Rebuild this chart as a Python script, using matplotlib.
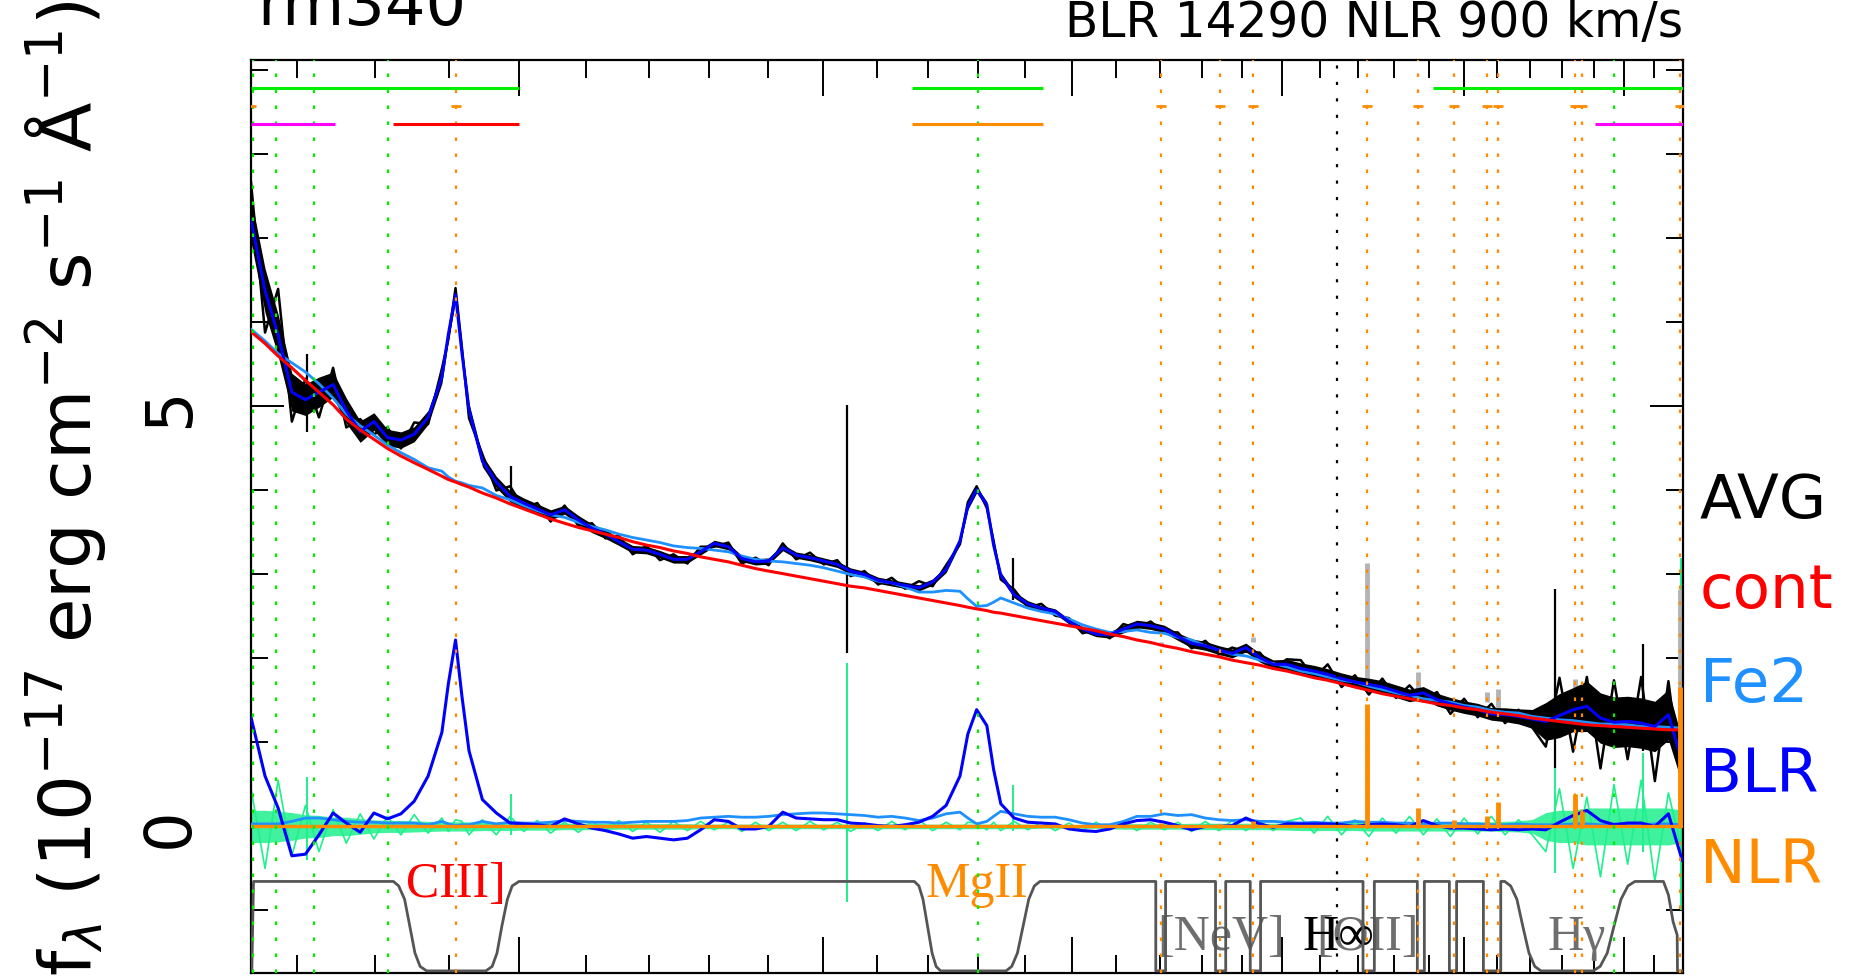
import numpy as np
import matplotlib
matplotlib.use("Agg")
import matplotlib.pyplot as plt
from matplotlib.ticker import FixedLocator, NullFormatter

# wavelength grid (Angstrom) and fitted components
wave = [1643, 1660, 1676, 1693, 1710, 1727, 1745, 1762, 1780, 1798,
        1816, 1834, 1852, 1871, 1890, 1899, 1909, 1918, 1928, 1947, 1967, 1987,
        2007, 2027, 2047, 2068, 2089, 2110, 2131, 2152, 2174, 2196,
        2218, 2240, 2263, 2285, 2308, 2332, 2355, 2379, 2402,
        2427, 2451, 2476, 2501, 2526, 2551, 2577, 2603, 2629, 2655, 2682, 2709, 2736, 2764,
        2780, 2798, 2819, 2833,
        2848, 2876, 2905, 2934, 2964, 2994, 3024, 3054, 3085, 3116, 3147,
        3179, 3211, 3243, 3276, 3309, 3342, 3375, 3409, 3444, 3478, 3513,
        3549, 3584, 3620, 3657, 3693, 3731, 3768, 3806, 3844, 3883, 3922,
        3961, 4001, 4041, 4082, 4123, 4164, 4206,
        4248, 4291, 4334, 4378, 4422, 4466, 4511, 4556, 4602, 4648, 4695]

cont = [5.89, 5.75, 5.60, 5.46, 5.31, 5.17, 5.02, 4.85, 4.72, 4.61,
        4.50, 4.41, 4.33, 4.25, 4.17, 4.13, 4.10, 4.07, 4.04, 3.97, 3.91, 3.84,
        3.78, 3.72, 3.66, 3.61, 3.56, 3.52, 3.48, 3.44, 3.39, 3.35,
        3.32, 3.28, 3.25, 3.21, 3.18, 3.15, 3.11, 3.07, 3.04,
        3.01, 2.98, 2.95, 2.92, 2.89, 2.86, 2.84, 2.81, 2.78, 2.75, 2.72, 2.69, 2.66, 2.63,
        2.61, 2.59, 2.57, 2.55,
        2.54, 2.51, 2.48, 2.45, 2.42, 2.39, 2.36, 2.33, 2.29, 2.26, 2.22,
        2.19, 2.15, 2.12, 2.08, 2.05, 2.02, 1.98, 1.95, 1.92, 1.88, 1.85,
        1.81, 1.77, 1.74, 1.70, 1.66, 1.62, 1.58, 1.55, 1.52, 1.49, 1.46,
        1.44, 1.41, 1.39, 1.36, 1.34, 1.32, 1.29,
        1.27, 1.25, 1.23, 1.21, 1.20, 1.19, 1.18, 1.17, 1.16, 1.15, 1.15]

fe2 = [0.03, 0.03, 0.03, 0.06, 0.10, 0.10, 0.08, 0.06, 0.05, 0.05,
       0.04, 0.04, 0.04, 0.02, 0.06, 0.03, 0.01, 0.02, 0.02, 0.06, 0.03, 0.05,
       0.04, 0.04, 0.05, 0.07, 0.06, 0.05, 0.05, 0.04, 0.05, 0.06,
       0.06, 0.06, 0.07, 0.10, 0.11, 0.12, 0.11, 0.11, 0.12,
       0.14, 0.15, 0.16, 0.16, 0.15, 0.14, 0.13, 0.11, 0.12, 0.10, 0.07, 0.10, 0.15, 0.17,
       0.10, 0.03, 0.06, 0.12,
       0.18, 0.15, 0.12, 0.11, 0.11, 0.08, 0.04, 0.02, 0.02, 0.06, 0.12,
       0.12, 0.15, 0.13, 0.14, 0.10, 0.08, 0.07, 0.08, 0.06, 0.06, 0.05,
       0.04, 0.05, 0.04, 0.04, 0.06, 0.05, 0.05, 0.04, 0.04, 0.03, 0.04,
       0.04, 0.03, 0.03, 0.02, 0.02, 0.03, 0.02,
       0.02, 0.02, 0.03, 0.03, 0.02, 0.03, 0.03, 0.02, 0.03, 0.03, 0.02]

blr = [1.30, 0.60, 0.22, -0.35, -0.33, -0.10, 0.16, 0.04, -0.07, 0.16,
       0.09, 0.15, 0.30, 0.60, 1.12, 1.70, 2.22, 1.55, 0.90, 0.32, 0.16, 0.04,
       0.03, 0.02, 0.00, 0.09, 0.03, -0.02, -0.05, -0.09, -0.14, -0.12,
       -0.14, -0.16, -0.14, -0.04, 0.08, 0.06, -0.03, -0.03, 0.00,
       0.17, 0.10, 0.09, 0.08, 0.08, 0.04, 0.03, 0.01, 0.00, 0.02, 0.05, 0.12, 0.25, 0.60,
       1.10, 1.39, 1.20, 0.68,
       0.27, 0.10, 0.05, 0.04, 0.03, -0.03, -0.05, -0.06, -0.03, 0.03, 0.07,
       0.08, 0.05, 0.01, -0.04, 0.00, 0.00, 0.01, 0.10, 0.03, -0.01, 0.03,
       0.03, 0.03, 0.03, 0.02, 0.00, 0.02, 0.03, 0.02, 0.00, 0.07, 0.01,
       -0.02, -0.02, -0.03, -0.04, -0.03, -0.04, -0.03,
       -0.04, 0.05, 0.13, 0.19, 0.07, 0.02, 0.04, 0.04, 0.00, 0.15, -0.40]

# data minus model at each grid point
resid = [0.45, -0.50, 0.55, -0.35, 0.25, -0.30, 0.20, -0.20, 0.15, -0.15,
         0.12, -0.10, 0.14, -0.08, 0.10, -0.06, 0.08, 0.06, -0.10, 0.08, -0.10, 0.12,
         -0.06, 0.07, -0.08, 0.05, -0.07, 0.06, -0.05, 0.07, -0.06, 0.05,
         -0.07, 0.06, -0.05, 0.06, -0.04, 0.05, -0.06, 0.05, -0.05,
         0.05, -0.05, 0.06, -0.04, 0.05, -0.06, 0.04, -0.05, 0.06, -0.04, 0.08, -0.05, 0.05, -0.04,
         0.05, 0.04, -0.04, 0.05,
         -0.05, 0.06, -0.04, 0.05, -0.05, 0.04, -0.05, 0.05, -0.04, 0.06, -0.05,
         0.05, -0.04, 0.05, -0.06, 0.06, -0.05, 0.07, -0.05, 0.06, -0.05, 0.06,
         0.10, -0.08, 0.12, -0.10, 0.08, -0.12, 0.10, -0.08, 0.12, -0.10, 0.09,
         -0.12, 0.10, -0.09, 0.12, -0.10, 0.08, -0.10,
         -0.30, 0.45, -0.50, 0.35, -0.60, 0.50, -0.45, 0.55, -0.65, 0.40, -0.30]

# half width of the pixel-to-pixel noise band
noise = [0.35, 0.35, 0.33, 0.30, 0.25, 0.24, 0.20, 0.20, 0.17, 0.14,
         0.13, 0.13, 0.12, 0.11, 0.10, 0.10, 0.10, 0.10, 0.10, 0.09, 0.09, 0.09,
         0.08, 0.08, 0.08, 0.07, 0.07, 0.07, 0.07, 0.06, 0.06, 0.06,
         0.06, 0.06, 0.06, 0.05, 0.05, 0.05, 0.05, 0.05, 0.05,
         0.05, 0.05, 0.05, 0.05, 0.05, 0.05, 0.05, 0.05, 0.05, 0.05, 0.05, 0.05, 0.05, 0.05,
         0.05, 0.05, 0.05, 0.05,
         0.05, 0.05, 0.05, 0.04, 0.04, 0.04, 0.04, 0.04, 0.05, 0.06, 0.06,
         0.06, 0.06, 0.06, 0.07, 0.07, 0.07, 0.07, 0.07, 0.07, 0.07, 0.08,
         0.09, 0.09, 0.09, 0.09, 0.09, 0.10, 0.10, 0.10, 0.10, 0.10, 0.10,
         0.10, 0.10, 0.10, 0.10, 0.11, 0.12, 0.15,
         0.30, 0.35, 0.35, 0.40, 0.40, 0.40, 0.40, 0.40, 0.40, 0.40, 0.35]

# single bad pixels
black_spike_wave = [1712, 1988, 2545, 2873, 4276, 4562]
black_spike_lo = [4.70, 3.90, 2.07, 2.70, 0.69, 0.90]
black_spike_hi = [5.62, 4.29, 5.02, 3.20, 2.83, 2.17]
green_spike_wave = [1712, 1988, 2545, 2873, 4276, 4562, 4690]
green_spike_lo = [-0.40, -0.10, -0.90, -0.05, -0.55, -0.30, -1.00]
green_spike_hi = [0.59, 0.39, 1.95, 0.49, 1.52, 0.88, 3.20]

# narrow lines
nlr_wave = [3203, 3346, 3426, 3727, 3869, 3970, 4069, 4103, 4340, 4363, 4686]
nlr_peak = [0.04, 0.03, 0.07, 1.46, 0.22, 0.08, 0.12, 0.29, 0.39, 0.18, 1.66]
gray_top = [2.20, 2.05, 2.26, 3.14, 1.84, 1.50, 1.60, 1.64, 1.76, 1.52, 2.83]

green_lines = [1645, 1673, 1721, 1817, 2800, 4467]
orange_lines = [1909, 3203, 3346, 3426, 3727, 3869, 3970, 4069, 4103, 4340, 4363, 4686]
orange_marks = [1643] + orange_lines
black_lines = [3646]

# fitting windows at the top
green_win_lo, green_win_hi = [1643, 2669, 3911], [2000, 2938, 4700]
red_win_lo, red_win_hi = [1823], [2000]
orange_win_lo, orange_win_hi = [2669], [2938]
magenta_win_lo, magenta_win_hi = [1643, 4405], [1747, 4700]

# weight mask (1 = used in fit)
mask_wave = [1644, 1646, 1824, 1831, 1839, 1846, 1853, 1860, 1869,
             1952, 1961, 1968, 1975, 1983, 1990, 2000,
             2673, 2682, 2690, 2699, 2708, 2716, 2725,
             2859, 2871, 2883, 2895, 2907, 2919, 2931,
             3191, 3191, 3214, 3214, 3334, 3334, 3359, 3359, 3420, 3420, 3446, 3446,
             3715, 3715, 3746, 3746, 3866, 3866, 3886, 3886, 3958, 3958, 3979, 3979,
             4058, 4058, 4110, 4110,
             4122, 4140, 4159, 4177, 4196, 4214, 4233,
             4398, 4421, 4444, 4466, 4489, 4512, 4535,
             4631, 4648, 4664, 4678, 4679, 4698]
mask_level = [0, 1, 1, 0.95, 0.8, 0.5, 0.2, 0.05, 0,
              0, 0.05, 0.2, 0.5, 0.8, 0.95, 1,
              1, 0.95, 0.8, 0.5, 0.2, 0.05, 0,
              0, 0.05, 0.2, 0.5, 0.8, 0.95, 1,
              1, 0, 0, 1, 1, 0, 0, 1, 1, 0, 0, 1,
              1, 0, 0, 1, 1, 0, 0, 1, 1, 0, 0, 1,
              1, 0, 0, 1,
              1, 0.95, 0.8, 0.5, 0.2, 0.05, 0,
              0, 0.05, 0.2, 0.5, 0.8, 0.95, 1,
              1, 0.85, 0.55, 0.4, 0, 0]

plt.rcParams['font.family'] = ['DejaVu Sans']
plt.rcParams['mathtext.fontset'] = 'dejavusans'

GREEN_RES = '#1ef08c'
LIME = '#00ee00'
ORANGE = '#ff8c00'
LBLUE = '#1e90ff'
GRAYTXT = '#6e6e6e'
serif = ['Liberation Serif', 'DejaVu Serif']

w = np.array(wave, dtype=float)
cont = np.array(cont)
fe2 = np.array(fe2)
blr = np.array(blr)
resid = np.array(resid)
noise = np.array(noise)
total = cont + fe2 + blr
avg = total + resid

fig = plt.figure(figsize=(18.54, 9.79), dpi=100)
ax = fig.add_axes([251 / 1854, 5 / 979, 1432 / 1854, 913 / 979])
ax.set_xscale('log')
ax.set_xlim(1643, 4698)
ax.set_ylim(-1.745, 9.125)

# residuals
g_band = 0.55 * noise
ax.fill_between(w, -g_band, g_band, color=GREEN_RES, lw=0, alpha=0.85, zorder=2)
ax.plot(w, resid, color=GREEN_RES, lw=1.2, zorder=2)
ax.vlines(green_spike_wave, green_spike_lo, green_spike_hi, color=GREEN_RES, lw=1.4, zorder=2)

# narrow lines on top of model
top = np.array(gray_top)
ax.vlines(nlr_wave, top - np.array(nlr_peak), top, color='#b4b4b4', lw=3.5, zorder=2.5)

# data
k_band = 0.75 * noise
ax.fill_between(w, total - k_band, total + k_band, color='black', lw=0, zorder=3)
ax.plot(w, avg, color='black', lw=1.8, zorder=3)
ax.vlines(black_spike_wave, black_spike_lo, black_spike_hi, color='black', lw=1.6, zorder=3)

# model pieces
ax.plot(w, cont + fe2, color=LBLUE, lw=2.0, zorder=4)
ax.plot(w, fe2, color=LBLUE, lw=2.0, zorder=4)
ax.plot(w, total, color='#0000ff', lw=2.2, zorder=5)
ax.plot(w, blr, color='#0000ff', lw=2.2, zorder=5)
ax.plot(w, cont, color='red', lw=2.2, zorder=6)
ax.axhline(0, color=ORANGE, lw=2.4, zorder=6)
ax.vlines(nlr_wave, 0, nlr_peak, color=ORANGE, lw=3.5, zorder=6)

# mask
mask_y = -1.72 + 1.065 * np.array(mask_level)
ax.plot(mask_wave, mask_y, color='#555555', lw=2.0, zorder=4)

# line markers
for x in green_lines:
    ax.axvline(x, color=LIME, lw=1.6, dashes=(1.6, 5.6), zorder=7)
for x in orange_lines:
    ax.axvline(x, color=ORANGE, lw=1.6, dashes=(1.6, 5.6), zorder=7)
for x in black_lines:
    ax.axvline(x, color='black', lw=1.6, dashes=(1.4, 6.0), zorder=7)


def windows(y, lo, hi, col):
    ax.hlines([y] * len(lo), lo, hi, color=col, lw=2.2, zorder=7)


windows(8.795, green_win_lo, green_win_hi, LIME)
windows(8.367, red_win_lo, red_win_hi, 'red')
windows(8.367, orange_win_lo, orange_win_hi, ORANGE)
windows(8.367, magenta_win_lo, magenta_win_hi, '#ff00ff')
ax.plot(orange_marks, [8.58] * len(orange_marks), ls='none', marker='_',
        ms=7.5, mew=2.0, color=ORANGE, zorder=7)

# labels of lines
ax.text(1909, -0.83, 'CIII]', color='red', ha='center', va='baseline',
        fontsize=36, family=serif)
ax.text(2798, -0.83, 'MgII', color=ORANGE, ha='center', va='baseline',
        fontsize=36, family=serif)
ax.text(3347, -1.458, '[NeV]', color=GRAYTXT, ha='center', va='baseline',
        fontsize=36, family=serif)
ax.text(3727, -1.458, '[OII]', color=GRAYTXT, ha='center', va='baseline',
        fontsize=36, family=serif)
ax.text(3648, -1.458, 'H∞', color='black', ha='center', va='baseline',
        fontsize=36, family=serif)
ax.text(4346, -1.458, 'Hγ', color=GRAYTXT, ha='center', va='baseline',
        fontsize=36, family=serif)

# ticks
ax.xaxis.set_major_locator(FixedLocator([2000, 2500, 3000, 3500, 4000, 4500]))
ax.xaxis.set_minor_locator(FixedLocator([v for v in range(1700, 4700, 100) if v % 500]))
ax.xaxis.set_major_formatter(NullFormatter())
ax.xaxis.set_minor_formatter(NullFormatter())
ax.tick_params(axis='x', which='major', direction='in', length=26, width=1.4,
               top=True, bottom=True, labelbottom=False)
ax.tick_params(axis='x', which='minor', direction='in', length=13, width=1.4,
               top=True, bottom=True)
ax.set_yticks([0, 5])
ax.set_yticks(range(-1, 10), minor=True)
ax.set_yticklabels(['0', '5'])
ax.tick_params(axis='y', which='major', direction='in', length=24, width=1.4,
               left=True, right=True, labelsize=46, pad=36)
ax.tick_params(axis='y', which='minor', direction='in', length=12, width=1.4,
               left=True, right=True)
for lab in ax.get_yticklabels():
    lab.set_rotation(90)
    lab.set_va('center')
for s in ax.spines.values():
    s.set_linewidth(1.6)

# titles, axis label, legend
fig.text(257 / 1854, 1 - 25 / 979, 'rm340', fontsize=46, ha='left', va='baseline')
fig.text(1683 / 1854, 1 - 37 / 979, 'BLR 14290 NLR 900 km/s', fontsize=35,
         ha='right', va='baseline')
fig.text(66 / 1854, 1 - 976 / 979,
         r'f$_\lambda$ (10$^{-17}$ erg cm$^{-2}$ s$^{-1}$ Å$^{-1}$)',
         rotation=90, fontsize=52, ha='center', va='bottom')

legend_names = ['AVG', 'cont', 'Fe2', 'BLR', 'NLR']
legend_colors = ['black', 'red', LBLUE, '#0000ff', ORANGE]
legend_base = [518, 608, 702, 792, 883]
for name, col, yb in zip(legend_names, legend_colors, legend_base):
    fig.text(1700 / 1854, 1 - yb / 979, name, color=col, fontsize=44,
             ha='left', va='baseline')

fig.savefig('out.png', dpi=100)
